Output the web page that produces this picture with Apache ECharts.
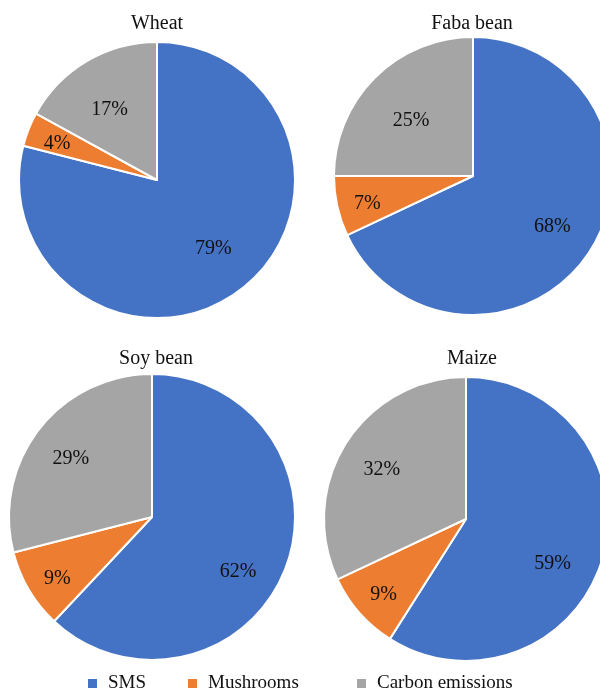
<!DOCTYPE html>
<html>
<head>
<meta charset="utf-8">
<script src="https://cdn.jsdelivr.net/npm/echarts@6/dist/echarts.min.js"></script>
<style>
html,body{margin:0;padding:0;background:#fff;}
#chart{width:600px;height:691px;}
</style>
</head>
<body>
<div id="chart"></div>
<script>
const crops = ['Wheat', 'Faba bean', 'Soy bean', 'Maize'];
const categories = ['SMS', 'Mushrooms', 'Carbon emissions'];
const sms = [79, 68, 62, 59];
const mushrooms = [4, 7, 9, 9];
const carbon = [17, 25, 29, 32];

const colors = ['#4472C4', '#ED7D31', '#A5A5A5'];
const FONT = "'Liberation Serif', 'Times New Roman', serif";

// layout of the four pies (center, radius, title position) and label nudges per slice
const layout = [
  {cx: 157, cy: 180, r: 138, tx: 157, ty: 14, nudge: [[-3, -8], [3, 4], [2, 13]]},
  {cx: 473, cy: 176, r: 139, tx: 472, ty: 14, nudge: [[-3, -2], [3, 3], [7, 14]]},
  {cx: 152, cy: 517, r: 143, tx: 156, ty: 349, nudge: [[-7, 18], [4, 3], [-2, 3]]},
  {cx: 466, cy: 519, r: 142, tx: 472, ty: 349, nudge: [[-9, 17], [3, 1], [0, 4]]}
];

function dataFor(i) {
  const vals = [sms[i], mushrooms[i], carbon[i]];
  return categories.map((c, k) => ({name: c, value: vals[k], itemStyle: {color: colors[k]}}));
}

const series = [];
const titles = [];
crops.forEach((crop, i) => {
  const L = layout[i];
  titles.push({
    text: crop, left: L.tx, top: L.ty, textAlign: 'center', padding: 0,
    textStyle: {fontFamily: FONT, fontSize: 20, fontWeight: 'normal', color: '#111'}
  });
  series.push({
    type: 'pie', center: [L.cx, L.cy], radius: [0, L.r], startAngle: 90, clockwise: true,
    data: dataFor(i),
    label: {show: false}, labelLine: {show: false},
    itemStyle: {borderColor: '#fff', borderWidth: 2},
    emphasis: {disabled: true}, silent: true, animation: false
  });
});
// label overlays (transparent): big slices and small slice at different radial distances
crops.forEach((crop, i) => {
  const L = layout[i];
  [[1.36, n => n !== 'Mushrooms'], [1.56, n => n === 'Mushrooms']].forEach(([f, test]) => {
    series.push({
      type: 'pie', center: [L.cx, L.cy], radius: [0, L.r * f], startAngle: 90, clockwise: true,
      data: dataFor(i).map((d, k) => ({
        name: d.name, value: d.value,
        label: {offset: L.nudge[k]}
      })),
      itemStyle: {color: 'rgba(0,0,0,0)', borderWidth: 0},
      label: {
        show: true, position: 'inside',
        formatter: p => test(p.name) ? p.value + '%' : '',
        fontFamily: FONT, fontSize: 20, color: '#111'
      },
      labelLine: {show: false},
      emphasis: {disabled: true}, silent: true, animation: false
    });
  });
});

const legendLefts = [81, 181, 350];
const legends = categories.map((c, k) => ({
  data: [{name: c, itemStyle: {color: colors[k]}}],
  left: legendLefts[k], top: 669, icon: 'rect', itemWidth: 11, itemHeight: 11,
  itemGap: 0, selectedMode: false,
  textStyle: {fontFamily: FONT, fontSize: 19, color: '#111', padding: [0, 0, 0, 5]}
}));

const chart = echarts.init(document.getElementById('chart'), null, {renderer: 'canvas'});
chart.setOption({
  backgroundColor: '#fff',
  animation: false,
  title: titles,
  legend: legends,
  series: series
});
</script>
</body>
</html>
